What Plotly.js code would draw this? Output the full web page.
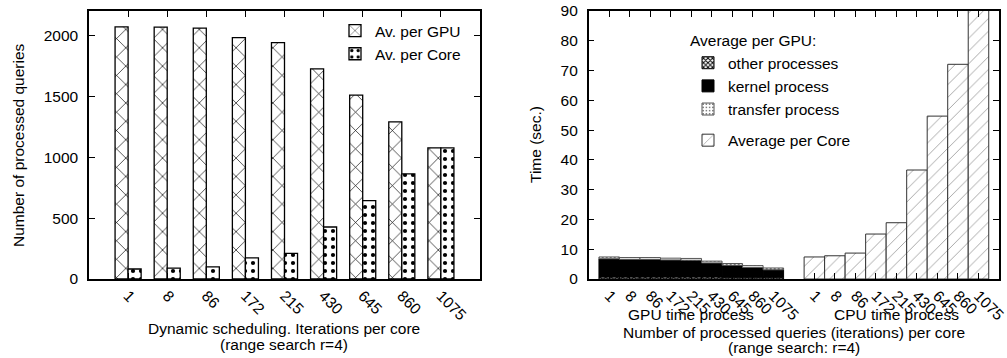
<!DOCTYPE html>
<html>
<head>
<meta charset="utf-8">
<script src="https://cdn.plot.ly/plotly-3.0.1.min.js"></script>
<style>
html,body{margin:0;padding:0;background:#fff;}
#chart{width:1007px;height:358px;}
</style>
</head>
<body>
<div id="chart"></div>
<script>
// ---- Data ----
var iterLabels = ["1", "8", "86", "172", "215", "430", "645", "860", "1075"];

// Left chart: number of processed queries
var avPerGPU  = [2070, 2068, 2060, 1981, 1940, 1725, 1509, 1290, 1077];
var avPerCore = [82, 90, 99, 173, 211, 427, 644, 863, 1077];

// Right chart: time (sec.)
var gpuOther    = [0.7, 0.7, 0.7, 0.7, 0.7, 0.7, 0.6, 0.6, 0.6];
var gpuKernel   = [6.1, 5.9, 5.9, 5.7, 5.6, 4.7, 4.0, 3.3, 2.5];
var gpuTransfer = [0.6, 0.6, 0.6, 0.6, 0.6, 0.6, 0.6, 0.6, 0.6];
var cpuPerCore  = [7.4, 7.8, 8.7, 15.1, 18.9, 36.6, 54.7, 72.1, 96];

// ---- Build ----
var FONT = "Liberation Sans, Arial, Helvetica, sans-serif";
var FS = 15.5;
var idx = iterLabels.map(function(_, i){ return i; });
var gap = iterLabels.length + 1;
var cpuX = idx.map(function(i){ return i + gap; });
var baseKernel = gpuOther.slice();
var baseTransfer = gpuOther.map(function(v, i){ return v + gpuKernel[i]; });

var lineBlack = {color: "#000", width: 1.3};

var traces = [
  {
    type: "bar", name: "Av. per GPU", x: idx, y: avPerGPU,
    xaxis: "x", yaxis: "y", offset: -1/3, width: 1/3, legend: "legend",
    marker: {color: "#fff", line: lineBlack,
      pattern: {shape: "x", size: 13, solidity: 0.1, fgcolor: "#000", bgcolor: "#fff"}}
  },
  {
    type: "bar", name: "Av. per Core", x: idx, y: avPerCore,
    xaxis: "x", yaxis: "y", offset: 0, width: 1/3, legend: "legend",
    marker: {color: "#fff", line: lineBlack,
      pattern: {shape: ".", size: 8, solidity: 0.22, fgcolor: "#000", bgcolor: "#fff"}}
  },
  {
    type: "bar", name: "other processes", x: idx, y: gpuOther,
    xaxis: "x2", yaxis: "y2", width: 1, legend: "legend2", legendgroup: "gpu",
    marker: {color: "#000", line: {color: "#000", width: 1},
      pattern: {shape: "x", size: 4, solidity: 0.5, fgcolor: "#000", bgcolor: "#fff"}}
  },
  {
    type: "bar", name: "kernel process", x: idx, y: gpuKernel, base: baseKernel,
    xaxis: "x2", yaxis: "y2", width: 1, legend: "legend2", legendgroup: "gpu",
    marker: {color: "#000", line: {color: "#000", width: 1}}
  },
  {
    type: "bar", name: "transfer process", x: idx, y: gpuTransfer, base: baseTransfer,
    xaxis: "x2", yaxis: "y2", width: 1, legend: "legend2", legendgroup: "gpu",
    marker: {color: "#fff", line: {color: "#555", width: 1},
      pattern: {shape: ".", size: 4, solidity: 0.2, fgcolor: "#555", bgcolor: "#fff"}}
  },
  {
    type: "bar", name: "Average per Core", x: cpuX, y: cpuPerCore,
    xaxis: "x2", yaxis: "y2", width: 1, legend: "legend2", legendgroup: "cpu",
    marker: {color: "#fff", line: {color: "#333", width: 1},
      pattern: {shape: "/", size: 9, solidity: 0.08, fgcolor: "#888", bgcolor: "#fff"}}
  }
];

var axisCommon = {
  showgrid: false, zeroline: false, showline: true, linecolor: "#000", linewidth: 1.5,
  mirror: "ticks", ticks: "inside", ticklen: 6, tickcolor: "#000", tickwidth: 1,
  ticklabeloverflow: "allow",
  tickfont: {family: FONT, size: FS, color: "#000"}
};

function ax(extra){ var o = {}; for (var k in axisCommon) o[k] = axisCommon[k]; for (var k2 in extra) o[k2] = extra[k2]; return o; }

var allTickVals = idx.concat(cpuX);
var allTickText = iterLabels.concat(iterLabels);

// pixel-to-paper helpers (plot area spans y 11..279, x 89..999)
function py(p){ return 1 - (p - 11) / 268; }
function px(p){ return (p - 89) / 910; }

function note(text, x, y, xref, angle){
  return {xref: xref || "paper", yref: "paper", x: x, y: y, text: text, showarrow: false,
    textangle: angle || 0, xanchor: "center", yanchor: "middle",
    font: {family: FONT, size: FS, color: "#000"}};
}

var layout = {
  width: 1007, height: 358,
  margin: {l: 89, r: 8, t: 11, b: 79},
  paper_bgcolor: "#fff", plot_bgcolor: "#fff",
  barmode: "overlay",
  font: {family: FONT, size: FS, color: "#000"},
  showlegend: true,
  xaxis: ax({domain: [0, px(480)], range: [-1, iterLabels.length], tickvals: idx, ticktext: iterLabels,
    tickangle: 45, anchor: "y"}),
  yaxis: ax({domain: [0, 1], range: [0, 2200], tickvals: [0, 500, 1000, 1500, 2000], anchor: "x",
    ticklabelstandoff: 6}),
  xaxis2: ax({domain: [px(588.7), 1], range: [-1, gap + iterLabels.length], tickvals: allTickVals, ticktext: allTickText,
    tickangle: 45, anchor: "y2"}),
  yaxis2: ax({domain: [0, 1], range: [0, 90], dtick: 10, anchor: "x2", ticklabelstandoff: 6}),
  legend: {x: px(466), xanchor: "right", y: py(14), yanchor: "top", bgcolor: "rgba(0,0,0,0)",
    font: {family: FONT, size: FS}, tracegroupgap: 0},
  legend2: {x: px(688), xanchor: "left", y: py(26), yanchor: "top", bgcolor: "rgba(0,0,0,0)",
    traceorder: "grouped", tracegroupgap: 8,
    title: {text: "Average per GPU:", font: {family: FONT, size: FS}},
    font: {family: FONT, size: FS}},
  annotations: [
    // axis titles
    note("Dynamic scheduling. Iterations per core", px(284.4), py(328)),
    note("(range search r=4)", px(284.4), py(344)),
    note("Number of processed queries", px(18), py(145), "paper", -90),
    note("Time (sec.)", px(535), py(145), "paper", -90),
    note("Number of processed queries (iterations) per core", px(793.9), py(332)),
    note("(range search: r=4)", px(793.9), py(347.5)),
    // group labels under right chart
    note("GPU time process", (iterLabels.length - 1) / 2, py(314), "x2"),
    note("CPU time process", gap + (iterLabels.length - 1) / 2, py(314), "x2")
  ]
};

Plotly.newPlot("chart", traces, layout, {displayModeBar: false, responsive: false});
</script>
</body>
</html>
